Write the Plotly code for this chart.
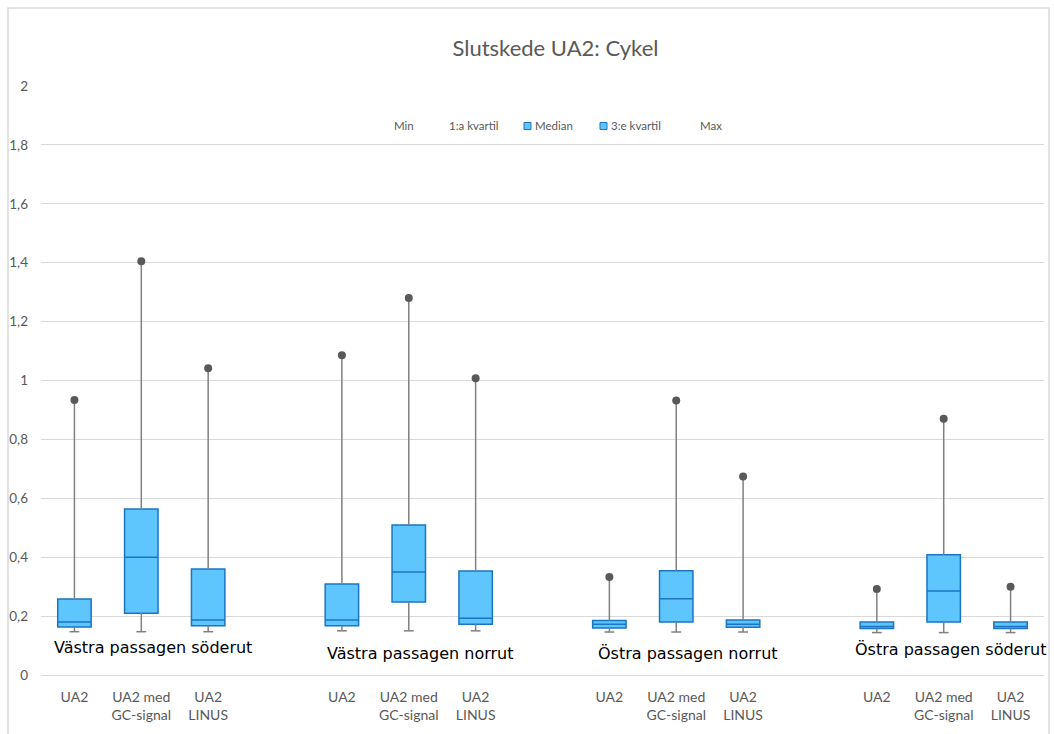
import plotly.graph_objects as go

# Box statistics per route (rows) and signal variant (columns)
groups = ["Västra passagen söderut", "Västra passagen norrut",
          "Östra passagen norrut", "Östra passagen söderut"]
variants = ["UA2", "UA2 med<br>GC-signal", "UA2<br>LINUS"]

min_vals = [[0.147, 0.147, 0.147],
            [0.150, 0.150, 0.150],
            [0.146, 0.146, 0.146],
            [0.144, 0.144, 0.144]]
q1_vals = [[0.163, 0.210, 0.167],
           [0.167, 0.248, 0.172],
           [0.160, 0.180, 0.162],
           [0.158, 0.180, 0.158]]
median_vals = [[0.180, 0.400, 0.187],
               [0.187, 0.350, 0.193],
               [0.172, 0.259, 0.172],
               [0.165, 0.285, 0.165]]
q3_vals = [[0.258, 0.564, 0.360],
           [0.309, 0.509, 0.353],
           [0.185, 0.354, 0.187],
           [0.180, 0.408, 0.180]]
max_vals = [[0.934, 1.405, 1.042],
            [1.086, 1.280, 1.008],
            [0.333, 0.932, 0.674],
            [0.292, 0.870, 0.300]]

legend_labels = ["Min", "1:a kvartil", "Median", "3:e kvartil", "Max"]
y_ticks = [0, 0.2, 0.4, 0.6, 0.8, 1, 1.2, 1.4, 1.6, 1.8, 2]

# ---- layout constants ----
W, H = 1054, 734
L, R, T, B = 41, 10, 86, 59
PW, PH = W - L - R, H - T - B
FILL = "#5ec5fd"
EDGE = "#1a75c4"
WHISK = "#808080"
DOT = "#595959"
GRID = "#d9d9d9"
TXT = "#595959"

slot_step = len(variants) + 1  # one empty slot between routes


def flat(a):
    return [v for row in a for v in row]


xs = [g * slot_step + v for g in range(len(groups)) for v in range(len(variants))]
mins, q1s, meds, q3s, maxs = map(flat, (min_vals, q1_vals, median_vals, q3_vals, max_vals))

fig = go.Figure()

# boxes (Q1 -> median -> Q3)
fig.add_trace(go.Box(
    x=xs, q1=q1s, median=meds, q3=q3s, lowerfence=q1s, upperfence=q3s,
    width=0.5, fillcolor=FILL, line=dict(color=EDGE, width=1.5),
    whiskerwidth=0, showlegend=False, hoverinfo="skip",
))

# whiskers
wx, wy = [], []
for x, lo, a, b, hi in zip(xs, mins, q1s, q3s, maxs):
    wx += [x, x, None, x, x, None]
    wy += [lo, a, None, b, hi, None]
fig.add_trace(go.Scatter(x=wx, y=wy, mode="lines",
                         line=dict(color=WHISK, width=1.5),
                         showlegend=False, hoverinfo="skip"))

# minimum caps
fig.add_trace(go.Scatter(x=xs, y=mins, mode="markers",
                         marker=dict(symbol="line-ew", size=7,
                                     line=dict(color=WHISK, width=1.5)),
                         showlegend=False, hoverinfo="skip"))

# maximum dots
fig.add_trace(go.Scatter(x=xs, y=maxs, mode="markers",
                         marker=dict(symbol="circle", size=8, color=DOT),
                         showlegend=False, hoverinfo="skip"))

annotations = []
# route labels inside the plot
route_label_pos = [(1.18, 0.093), (5.17, 0.072), (9.17, 0.074), (13.1, 0.088)]
for name, (gx, gy) in zip(groups, route_label_pos):
    annotations.append(dict(x=gx, y=gy, xref="x", yref="y", text=name,
                            showarrow=False, xanchor="center", yanchor="middle",
                            font=dict(family="DejaVu Sans", size=16, color="#000000")))

# legend row
def px_x(p):
    return (p - L) / PW


def px_y(p):
    return (H - B - p) / PH


legend_text_px = [392, 447, 533, 609, 698]
legend_swatch = [False, False, True, True, False]
legend_y = 126
shapes = []
for lab, tx, sw in zip(legend_labels, legend_text_px, legend_swatch):
    annotations.append(dict(x=px_x(tx), y=px_y(legend_y), xref="paper", yref="paper",
                            text=lab, showarrow=False, xanchor="left", yanchor="middle",
                            xshift=0,
                            font=dict(family="Lato", size=11.5, color=TXT)))
    if sw:
        shapes.append(dict(type="rect", xref="paper", yref="paper",
                           x0=px_x(tx - 9), x1=px_x(tx - 2),
                           y0=px_y(legend_y + 3.5), y1=px_y(legend_y - 3.5),
                           fillcolor=FILL, line=dict(color=EDGE, width=1)))

# chart frame
shapes.append(dict(type="rect", xref="paper", yref="paper",
                   x0=px_x(8), x1=px_x(1049), y0=px_y(745), y1=px_y(8),
                   line=dict(color=GRID, width=1.5), fillcolor="rgba(0,0,0,0)",
                   layer="below"))

fig.update_layout(
    width=W, height=H,
    margin=dict(l=L, r=R, t=T, b=B, pad=0),
    paper_bgcolor="white", plot_bgcolor="white",
    separators=",.",
    title=dict(text="Slutskede UA2: Cykel", x=555.5 / W, y=1 - 48 / H,
               xanchor="center", yanchor="middle",
               font=dict(family="Lato", size=22, color=TXT)),
    xaxis=dict(range=[-0.5, len(groups) * slot_step - 1.5],
               tickmode="array", tickvals=xs,
               ticktext=[variants[i % len(variants)] for i in range(len(xs))],
               showgrid=False, zeroline=False, showline=False, ticks="",
               ticklabelstandoff=12,
               tickfont=dict(family="Lato", size=14, color=TXT)),
    yaxis=dict(range=[0, 2], tickmode="array", tickvals=y_ticks,
               showgrid=True, gridcolor=GRID, gridwidth=1,
               zeroline=True, zerolinecolor=GRID, zerolinewidth=1,
               showline=False, ticks="", ticklabelstandoff=12,
               tickfont=dict(family="Lato", size=13.5, color=TXT)),
    annotations=annotations,
    shapes=shapes,
    showlegend=False,
)

fig.write_html("out.html")
